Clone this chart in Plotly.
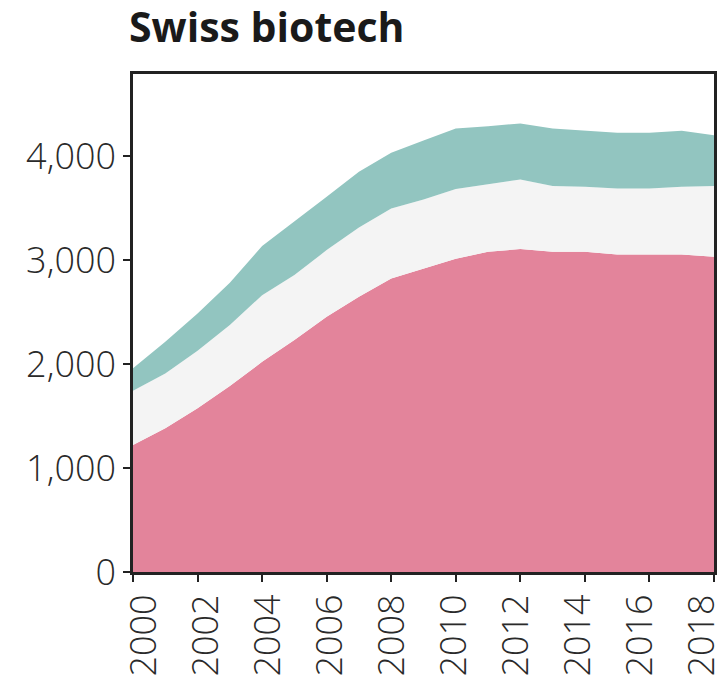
import plotly.graph_objects as go

years = list(range(2000, 2019))
pink_vals = [1221, 1382, 1574, 1788, 2022, 2231, 2455, 2647, 2824, 2920, 3013, 3080, 3106, 3080, 3080, 3055, 3055, 3055, 3032]
grey_vals = [522, 528, 554, 587, 641, 625, 641, 667, 673, 663, 672, 651, 670, 632, 625, 634, 634, 650, 680]
teal_vals = [216, 305, 359, 407, 472, 513, 513, 535, 535, 568, 581, 557, 538, 554, 539, 535, 535, 539, 490]
x_ticks = list(range(2000, 2019, 2))
y_ticks = [0, 1000, 2000, 3000, 4000]

fig = go.Figure()
for vals, col in [(pink_vals, "#E3849B"), (grey_vals, "#F4F4F4"), (teal_vals, "#92C5C0")]:
    fig.add_trace(go.Scatter(x=years, y=vals, stackgroup="one", mode="lines",
                             line=dict(width=0, color=col), fillcolor=col,
                             hoverinfo="skip", showlegend=False))

font_fam = "'Open Sans', Lato, sans-serif"
axis_common = dict(automargin=False, showgrid=False, zeroline=False)
fig.update_layout(
    width=721, height=682,
    margin=dict(l=133, r=7, t=74, b=110),
    paper_bgcolor="white", plot_bgcolor="white",
    font=dict(family=font_fam, color="#333333"),
    title=dict(text="<b>Swiss biotech</b>", xref="container", yref="container",
               x=129/721, xanchor="left", y=1 - 28/682, yanchor="middle",
               font=dict(size=41, color="#1a1a1a", family=font_fam)),
    xaxis=dict(range=[2000, 2018], tickvals=x_ticks, showticklabels=False,
               showline=True, linecolor="#222222", linewidth=2.5, mirror=True,
               ticks="outside", ticklen=7, tickwidth=2, tickcolor="#222222",
               **axis_common),
    # label axis: the reference's year labels sit on a slightly narrower spacing than its ticks
    xaxis2=dict(overlaying="x", anchor="y", side="bottom", range=[1999.645, 2018.387],
                tickvals=x_ticks, tickangle=-90, ticks="outside", ticklen=7,
                tickcolor="rgba(0,0,0,0)", showline=False, ticklabeloverflow="allow",
                tickfont=dict(size=36, color="#2a2a2a", weight=300), **axis_common),
    yaxis=dict(range=[0, 4790], tickvals=y_ticks, tickformat=",d",
               ticklabeloverflow="allow",
               showline=True, linecolor="#222222", linewidth=2.5, mirror=True,
               ticks="outside", ticklen=7, tickwidth=2, tickcolor="#222222",
               tickfont=dict(size=36, color="#2a2a2a", weight=300), **axis_common),
)
# invisible helper trace so the label axis is drawn
fig.add_trace(go.Scatter(x=[x_ticks[0]], y=[y_ticks[0]], xaxis="x2", yaxis="y", mode="markers",
                         marker=dict(opacity=0), hoverinfo="skip", showlegend=False))
fig.write_html("out.html", config={"displayModeBar": False},
               post_script="document.body.style.margin='0px';document.body.style.padding='0px';")
